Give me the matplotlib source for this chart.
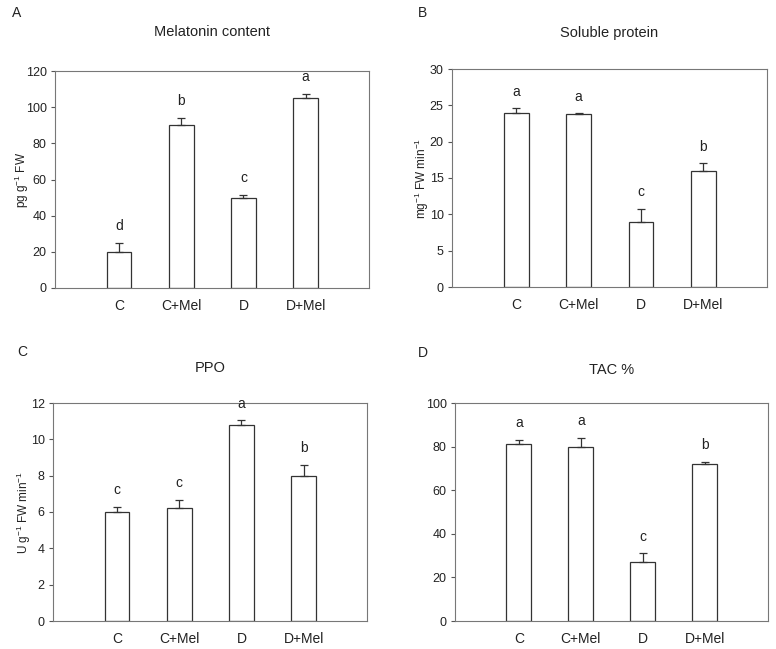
import numpy as np
import matplotlib
matplotlib.use("Agg")
import matplotlib.pyplot as plt

plt.rcParams['font.family'] = ['Liberation Sans', 'DejaVu Sans']
plt.rcParams['mathtext.default'] = 'regular'

groups = ['C', 'C+Mel', 'D', 'D+Mel']

# panel data (mean, upper error, significance letter)
mel_mean = [20, 90, 50, 105]
mel_err = [5, 4, 1.5, 2.5]
mel_sig = ['d', 'b', 'c', 'a']

prot_mean = [24, 23.8, 9, 16]
prot_err = [0.6, 0.1, 1.75, 1.0]
prot_sig = ['a', 'a', 'c', 'b']

ppo_mean = [6.0, 6.2, 10.8, 8.0]
ppo_err = [0.3, 0.45, 0.25, 0.6]
ppo_sig = ['c', 'c', 'a', 'b']

tac_mean = [81, 80, 27, 72]
tac_err = [2, 4, 4, 1]
tac_sig = ['a', 'a', 'c', 'b']

# tag, title, ylabel, data, ymax, step, axes box (px), title pad, tag position (px), ylabel x
panels = [
    ('A', 'Melatonin content', 'pg g$^{-1}$ FW', mel_mean, mel_err, mel_sig, 120, 20,
     [55, 71, 314, 217], 25, (12, 13), -0.076),
    ('B', 'Soluble protein', 'mg$^{-1}$ FW min$^{-1}$', prot_mean, prot_err, prot_sig, 30, 5,
     [452, 69, 315, 218], 23, (418, 13), -0.067),
    ('C', 'PPO', 'U g$^{-1}$ FW min$^{-1}$', ppo_mean, ppo_err, ppo_sig, 12, 2,
     [53, 403, 314, 218], 22, (17, 352), -0.064),
    ('D', 'TAC %', '', tac_mean, tac_err, tac_sig, 100, 20,
     [455, 403, 313, 218], 21, (418, 353), 0),
]

W, H = 776, 649
fig = plt.figure(figsize=(W / 100, H / 100), dpi=100)
txt = '#222222'
x = np.arange(len(groups))

for tag, title, ylab, mean, err, sig, ymax, step, (l, t, w, h), tpad, (tx, ty), ylx in panels:
    ax = fig.add_axes([l / W, 1 - (t + h) / H, w / W, h / H])
    ax.bar(x, mean, width=0.4, color='white', edgecolor='#333333', linewidth=0.9, zorder=2)
    ax.errorbar(x, mean, yerr=[np.zeros(len(mean)), err], fmt='none',
                ecolor='#333333', elinewidth=0.9, capsize=3, capthick=0.9, zorder=3)
    for xi, m, e, s in zip(x, mean, err, sig):
        ax.annotate(s, (xi, m + e), xytext=(0, 7), textcoords='offset points',
                    ha='center', va='bottom', fontsize=10, color=txt)
    ax.set_xlim(-1.03, 4.02)
    ax.set_ylim(0, ymax)
    ax.set_yticks(np.arange(0, ymax + step / 2, step))
    ax.set_xticks(x)
    ax.set_xticklabels(groups, fontsize=10, color=txt)
    ax.tick_params(axis='x', length=0, pad=8)
    ax.tick_params(axis='y', direction='out', length=3, width=0.8, labelsize=9,
                   labelcolor=txt, color='#555555', pad=3)
    for sp in ax.spines.values():
        sp.set_color('#777777')
        sp.set_linewidth(0.8)
    if ylab:
        ax.set_ylabel(ylab, fontsize=8.5, color=txt)
        ax.yaxis.set_label_coords(ylx, 0.5)
    ax.set_title(title, fontsize=10.5, color=txt, pad=tpad)
    fig.text(tx / W, 1 - ty / H, tag, fontsize=10, color=txt, ha='left', va='center')

fig.savefig('out.png', dpi=100)
